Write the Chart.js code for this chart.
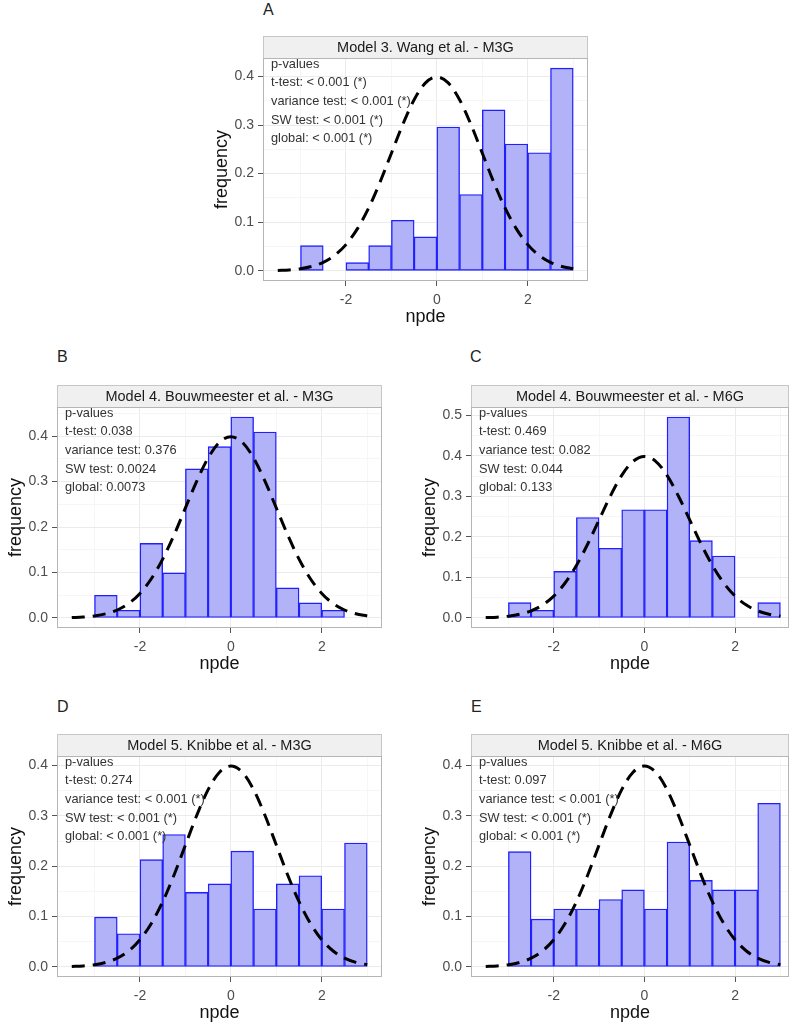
<!DOCTYPE html>
<html lang="en">
<head>
  <meta charset="UTF-8" />
  <title>npde histograms</title>
  <script src="https://cdn.jsdelivr.net/npm/chart.js"></script>
  <style>
    body {
      margin: 0;
      background: #fff;
      font-family: "Liberation Sans", Arial, sans-serif;
      overflow: hidden;
    }
    #figure {
      position: relative;
      width: 800px;
      height: 1026px;
    }
    .panel { position: absolute; }
    .letter {
      position: absolute;
      font-size: 16px;
      line-height: 16px;
      color: #222;
    }
  </style>
</head>
<body>
  <div id="figure"></div>

  <script>
    // histogram bins (width 0.5, -3 to 3)
    const binCenters = [-2.75, -2.25, -1.75, -1.25, -0.75, -0.25, 0.25, 0.75, 1.25, 1.75, 2.25, 2.75];

    const freqA = [0.052, 0, 0.017, 0.052, 0.104, 0.070, 0.296, 0.157, 0.331, 0.261, 0.243, 0.417];
    const freqB = [0.050, 0.017, 0.164, 0.099, 0.328, 0.377, 0.442, 0.409, 0.066, 0.033, 0.017, 0];
    const freqC = [0.038, 0.019, 0.115, 0.248, 0.172, 0.267, 0.267, 0.496, 0.191, 0.153, 0, 0.038];
    const freqD = [0.099, 0.066, 0.213, 0.263, 0.148, 0.165, 0.230, 0.115, 0.165, 0.181, 0.115, 0.246];
    const freqE = [0.229, 0.095, 0.115, 0.115, 0.134, 0.153, 0.115, 0.248, 0.172, 0.153, 0.153, 0.325];

    // dashed reference curve (standard normal density), read at 0.25 steps
    const curveX = [-3.5, -3.25, -3, -2.75, -2.5, -2.25, -2, -1.75, -1.5, -1.25, -1, -0.75, -0.5, -0.25,
                    0, 0.25, 0.5, 0.75, 1, 1.25, 1.5, 1.75, 2, 2.25, 2.5, 2.75, 3];
    const curveY = [0.0009, 0.0020, 0.0044, 0.0091, 0.0175, 0.0317, 0.0540, 0.0863, 0.1295, 0.1826, 0.2420, 0.3011, 0.3521, 0.3867,
                    0.3989, 0.3867, 0.3521, 0.3011, 0.2420, 0.1826, 0.1295, 0.0863, 0.0540, 0.0317, 0.0175, 0.0091, 0.0044];

    const xMajorTicks = [-2, 0, 2];
    const xMinorTicks = [-3, -1, 1, 3];
    const yMajorTicks = [0, 0.1, 0.2, 0.3, 0.4, 0.5];
    const yMinorTicks = [0.05, 0.15, 0.25, 0.35, 0.45];

    const panelLetters = ['A', 'B', 'C', 'D', 'E'];
    const panelTitles = [
      'Model 3. Wang et al. - M3G',
      'Model 4. Bouwmeester et al. - M3G',
      'Model 4. Bouwmeester et al. - M6G',
      'Model 5. Knibbe et al. - M3G',
      'Model 5. Knibbe et al. - M6G'
    ];
    const pvalsA = ['p-values', 't-test: < 0.001 (*)', 'variance test: < 0.001 (*)', 'SW test: < 0.001 (*)', 'global: < 0.001 (*)'];
    const pvalsB = ['p-values', 't-test: 0.038', 'variance test: 0.376', 'SW test: 0.0024', 'global: 0.0073'];
    const pvalsC = ['p-values', 't-test: 0.469', 'variance test: 0.082', 'SW test: 0.044', 'global: 0.133'];
    const pvalsD = ['p-values', 't-test: 0.274', 'variance test: < 0.001 (*)', 'SW test: < 0.001 (*)', 'global: < 0.001 (*)'];
    const pvalsE = ['p-values', 't-test: 0.097', 'variance test: < 0.001 (*)', 'SW test: < 0.001 (*)', 'global: < 0.001 (*)'];

    // layout (page pixels): plot box, strip top, letter position, x max
    const layouts = [
      { l: 263, r: 588, t: 58,  b: 281, strip: 36,  lx: 263, ly: 2,   xMax: 3.325 },
      { l: 57,  r: 382, t: 407, b: 628, strip: 385, lx: 57,  ly: 349, xMax: 3.325 },
      { l: 471, r: 789, t: 407, b: 628, strip: 385, lx: 470, ly: 349, xMax: 3.19 },
      { l: 57,  r: 382, t: 756, b: 977, strip: 734, lx: 57,  ly: 699, xMax: 3.325 },
      { l: 471, r: 789, t: 756, b: 977, strip: 734, lx: 471, ly: 699, xMax: 3.19 }
    ];
    const freqs = [freqA, freqB, freqC, freqD, freqE];
    const pvals = [pvalsA, pvalsB, pvalsC, pvalsD, pvalsE];

    const FONT = '"Liberation Sans", Arial, sans-serif';
    const Y_AXIS_W = 63;
    const X_AXIS_H = 47;

    const panelDecor = {
      id: 'panelDecor',
      beforeDraw(chart, args, opts) {
        const a = chart.chartArea, ctx = chart.ctx;
        ctx.save();
        ctx.fillStyle = '#f0f0f0';
        ctx.fillRect(a.left, opts.stripTop, a.right - a.left, a.top - opts.stripTop);
        ctx.strokeStyle = '#c6c6c6';
        ctx.lineWidth = 1;
        ctx.strokeRect(a.left + 0.5, opts.stripTop + 0.5, a.right - a.left - 1, a.top - opts.stripTop);
        ctx.fillStyle = '#1a1a1a';
        ctx.font = '14.5px ' + FONT;
        ctx.textAlign = 'center';
        ctx.textBaseline = 'middle';
        ctx.fillText(opts.title, (a.left + a.right) / 2, (opts.stripTop + a.top) / 2 + 1);
        ctx.restore();
      },
      afterDatasetsDraw(chart, args, opts) {
        const a = chart.chartArea, ctx = chart.ctx;
        ctx.save();
        ctx.fillStyle = '#333';
        ctx.font = '12.8px ' + FONT;
        ctx.textAlign = 'left';
        ctx.textBaseline = 'middle';
        opts.lines.forEach((txt, i) => {
          ctx.fillText(txt, a.left + 8, a.top + 6 + i * 18.7);
        });
        ctx.strokeStyle = '#b5b5b5';
        ctx.lineWidth = 1;
        ctx.strokeRect(a.left + 0.5, a.top + 0.5, a.right - a.left - 1, a.bottom - a.top - 1);
        ctx.restore();
      }
    };

    const isMajor = v => Math.abs(v * 10 - Math.round(v * 10)) < 1e-6;
    const tickVal = c => (c.tick ? c.tick.value : NaN);

    layouts.forEach((L, p) => {
      const fig = document.getElementById('figure');

      const letter = document.createElement('div');
      letter.className = 'letter';
      letter.style.left = L.lx + 'px';
      letter.style.top = L.ly + 'px';
      letter.textContent = panelLetters[p];
      fig.appendChild(letter);

      const cLeft = L.l - Y_AXIS_W;
      const cTop = L.strip - 2;
      const cW = L.r + 6 - cLeft;
      const cH = L.b + X_AXIS_H - cTop;
      const canvas = document.createElement('canvas');
      canvas.className = 'panel';
      canvas.width = cW;
      canvas.height = cH;
      canvas.style.left = cLeft + 'px';
      canvas.style.top = cTop + 'px';
      fig.appendChild(canvas);

      const freq = freqs[p];
      const top = Math.max(Math.max(...freq), Math.max(...curveY));
      const yMin = -0.05 * top, yMax = 1.05 * top;
      const xMin = -3.825;

      const yTicks = yMajorTicks.concat(yMinorTicks).filter(v => v >= yMin && v <= yMax).sort((a, b) => a - b);
      const xTicks = xMajorTicks.concat(xMinorTicks).filter(v => v >= xMin && v <= L.xMax).sort((a, b) => a - b);

      new Chart(canvas, {
        type: 'bar',
        data: {
          datasets: [
            {
              type: 'line',
              data: curveX.map((x, i) => ({ x, y: curveY[i] })),
              borderColor: '#000',
              borderWidth: 3,
              borderDash: [13, 8],
              pointRadius: 0,
              fill: false,
              cubicInterpolationMode: 'monotone'
            },
            {
              type: 'bar',
              data: binCenters.map((x, i) => ({ x, y: freq[i] })),
              backgroundColor: '#b1b2f8',
              borderColor: '#1f1fff',
              borderWidth: 1.4,
              borderSkipped: false,
              barPercentage: 1,
              categoryPercentage: 1
            }
          ]
        },
        options: {
          responsive: false,
          animation: false,
          events: [],
          layout: { padding: { top: L.t - cTop, right: 6, bottom: 0, left: 0 } },
          plugins: {
            legend: { display: false },
            tooltip: { enabled: false },
            panelDecor: { stripTop: L.strip - cTop, title: panelTitles[p], lines: pvals[p] }
          },
          scales: {
            x: {
              type: 'linear',
              offset: false,
              min: xMin,
              max: L.xMax,
              afterBuildTicks: s => { s.ticks = xTicks.map(v => ({ value: v })); },
              afterFit: s => { s.height = X_AXIS_H; },
              ticks: {
                autoSkip: false,
                maxRotation: 0,
                padding: 6,
                color: '#4d4d4d',
                font: { family: FONT, size: 14 },
                callback: v => xMajorTicks.includes(v) ? String(v) : ''
              },
              grid: {
                offset: false,
                color: c => xMajorTicks.includes(tickVal(c)) ? '#ebebeb' : '#f6f6f6',
                tickColor: c => xMajorTicks.includes(tickVal(c)) ? '#555' : 'rgba(0,0,0,0)',
                tickLength: 5,
                lineWidth: 1
              },
              border: { display: false },
              title: {
                display: true,
                text: 'npde',
                color: '#111',
                font: { family: FONT, size: 18 },
                padding: { top: 0, bottom: 0 }
              }
            },
            y: {
              type: 'linear',
              min: yMin,
              max: yMax,
              afterBuildTicks: s => { s.ticks = yTicks.map(v => ({ value: v })); },
              afterFit: s => { s.width = Y_AXIS_W; },
              ticks: {
                autoSkip: false,
                padding: 4,
                color: '#4d4d4d',
                font: { family: FONT, size: 14 },
                callback: v => isMajor(v) ? v.toFixed(1) : ''
              },
              grid: {
                color: c => isMajor(tickVal(c)) ? '#ebebeb' : '#f6f6f6',
                tickColor: c => isMajor(tickVal(c)) ? '#555' : 'rgba(0,0,0,0)',
                tickLength: 5,
                lineWidth: 1
              },
              border: { display: false },
              title: {
                display: true,
                text: 'frequency',
                color: '#111',
                font: { family: FONT, size: 18 },
                padding: { top: 11, bottom: 0 }
              }
            }
          }
        },
        plugins: [panelDecor]
      });
    });
  </script>
</body>
</html>
